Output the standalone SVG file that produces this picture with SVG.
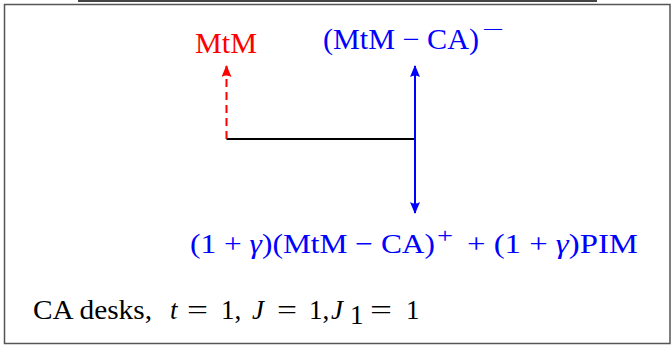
<svg xmlns="http://www.w3.org/2000/svg" width="672" height="345" viewBox="0 0 672 345">
<style>
text{font-family:"Liberation Serif","Times New Roman",serif;}
.lbl{font-size:29px;}
.lbl2{font-size:28px;}
.cap{font-size:27px;fill:#000;}
.blue{fill:#0000ff;}
.red{fill:#ff0000;}
.it{font-style:italic;}
</style>
<defs>
<marker id="ab" viewBox="0 0 12 10" refX="11" refY="5" markerWidth="12" markerHeight="10" markerUnits="userSpaceOnUse" orient="auto">
<path d="M0,0 Q3,5 0,10 L12,5 Z" fill="#0000ff"/>
</marker>
<marker id="ar" viewBox="0 0 12 10" refX="11" refY="5" markerWidth="12" markerHeight="10" markerUnits="userSpaceOnUse" orient="auto">
<path d="M0,0 Q3,5 0,10 L12,5 Z" fill="#ff0000"/>
</marker>
</defs>
<line x1="78" y1="1" x2="597" y2="1" stroke="#444" stroke-width="2"/>
<rect id="frame" x="4.5" y="4.5" width="665.5" height="339" fill="none" stroke="#555" stroke-width="1.5"/>
<g id="connectors">
<line x1="226.5" y1="139" x2="415" y2="139" stroke="#000" stroke-width="2"/>
<line x1="226.5" y1="139" x2="226.5" y2="66" stroke="#ff0000" stroke-width="2" stroke-dasharray="8,5" marker-end="url(#ar)"/>
<line x1="415" y1="139" x2="415" y2="66" stroke="#0000ff" stroke-width="2" marker-end="url(#ab)"/>
<line x1="415" y1="139" x2="415" y2="213" stroke="#0000ff" stroke-width="2" marker-end="url(#ab)"/>
</g>
<g id="node-mtm">
<text class="lbl red" x="195" y="53" textLength="62" lengthAdjust="spacingAndGlyphs">MtM</text>
</g>
<g id="node-neg">
<text class="lbl blue" x="323" y="49" textLength="156" lengthAdjust="spacingAndGlyphs">(MtM − CA)</text>
<text class="blue" x="482" y="36" font-size="20" textLength="22" lengthAdjust="spacingAndGlyphs">−</text>
</g>
<g id="node-pos">
<text class="lbl2 blue" x="190" y="253" textLength="245" lengthAdjust="spacingAndGlyphs">(1 + <tspan class="it">γ</tspan>)(MtM − CA)</text>
<text class="blue" x="437" y="243" font-size="20" textLength="16" lengthAdjust="spacingAndGlyphs">+</text>
<text class="lbl2 blue" x="467" y="253" textLength="171" lengthAdjust="spacingAndGlyphs">+ (1 + <tspan class="it">γ</tspan>)PIM</text>
</g>
<g id="caption">
<text class="cap" x="33" y="319" textLength="119" lengthAdjust="spacingAndGlyphs">CA desks,</text>
<text class="cap it" x="170" y="319">t</text>
<text class="cap" x="187" y="319" textLength="21" lengthAdjust="spacingAndGlyphs">=</text>
<text class="cap" x="221" y="319">1,</text>
<text class="cap it" x="252" y="319">J</text>
<text class="cap" x="277" y="319" textLength="20" lengthAdjust="spacingAndGlyphs">=</text>
<text class="cap" x="309" y="319">1,</text>
<text class="cap it" x="331" y="319">J</text>
<text class="cap" x="350" y="324" font-size="17">1</text>
<text class="cap" x="370" y="319" textLength="22" lengthAdjust="spacingAndGlyphs">=</text>
<text class="cap" x="406" y="319">1</text>
</g>
</svg>
